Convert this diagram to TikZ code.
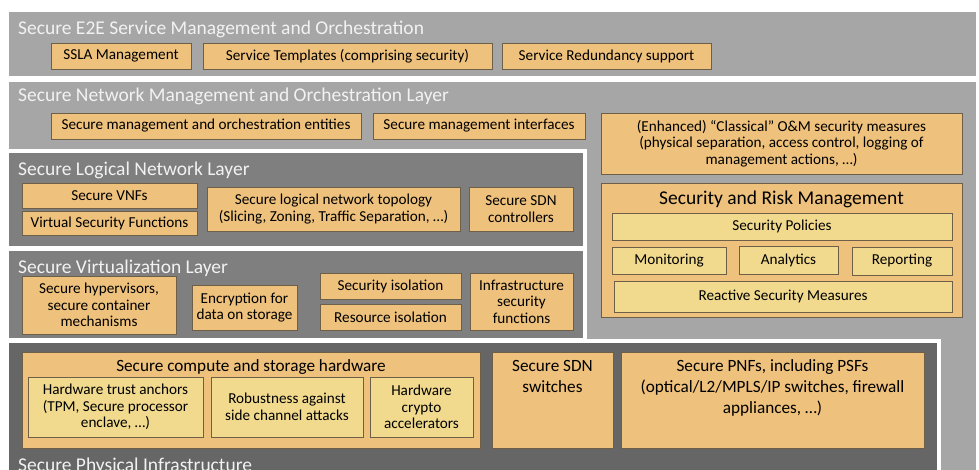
\documentclass[tikz,border=0pt]{standalone}
\usepackage{fontspec}
\setmainfont{Carlito}
\usetikzlibrary{positioning}

\definecolor{lgray}{HTML}{A6A6A6}
\definecolor{mgray}{HTML}{7F7F7F}
\definecolor{dgray}{HTML}{666666}
\definecolor{orng}{HTML}{EEC17C}
\definecolor{ylw}{HTML}{F1DA8E}
\definecolor{edgec}{HTML}{6E5F48}
\definecolor{ttlc}{HTML}{F2F2F2}

\tikzset{
  obox/.style={draw=edgec,line width=0.7pt,fill=orng,inner sep=0pt,align=center,
    font=\fontsize{15.2}{16.5}\selectfont},
  ybox/.style={obox,fill=ylw},
  sz/.style 2 args={minimum width=#1pt,minimum height=#2pt},
  ttl/.style={anchor=base west,inner sep=0pt,text=ttlc,font=\fontsize{19.5}{21}\selectfont},
  big/.style={inner sep=0pt,align=center,font=\fontsize{17.2}{21}\selectfont},
  layer/.style={draw=white,line width=4pt}
}

\begin{document}
\begin{tikzpicture}[x=1pt,y=-1pt]
\useasboundingbox (0,0) rectangle (979,470);
% backgrounds
\fill[lgray] (9,12) rectangle (976,76);
\fill[lgray] (9,82) rectangle (976,470);
\filldraw[layer,fill=mgray] (7,151) rectangle (585,248);
\filldraw[layer,fill=mgray] (7,249) rectangle (584.5,340);
\filldraw[layer,fill=dgray] (7,341) rectangle (939,480);

% E2E service management
\node[ttl] (t1) at (18,35) {Secure E2E Service Management and Orchestration};
\node[obox,sz={140}{26}] (ssla) at (121,56) {SSLA Management};
\node[obox,sz={289}{26}] (tmpl) at (347.5,56) {Service Templates (comprising security)};
\node[obox,sz={209}{26}] (red) at (606.5,56) {Service Redundancy support};

% network management
\node[ttl] (t2) at (18,102) {Secure Network Management and Orchestration Layer};
\node[obox,sz={310}{26}] (moe) at (206,126) {Secure management and orchestration entities};
\node[obox,sz={212}{26}] (mif) at (479,126) {Secure management interfaces};
\node[obox,sz={361}{61}] (om) at (781.5,143.5) {(Enhanced) ``Classical'' O\&M security measures\\(physical separation, access control, logging of\\management actions, \dots)};

% security and risk management
\node[obox,sz={361}{134}] (srm) at (781.5,250) {};
\node[inner sep=0pt,font=\fontsize{19.5}{21}\selectfont,below=8pt of srm.north] (srmt) {Security and Risk Management};
\node[ybox,sz={340}{27}] (pol) at (782,226.5) {Security Policies};
\node[ybox,sz={114}{27}] (mon) at (669,260.5) {Monitoring};
\node[ybox,sz={99}{28}] (ana) at (788.5,260.5) {Analytics};
\node[ybox,sz={100}{28}] (rep) at (902,261) {Reporting};
\node[ybox,sz={338}{31}] (rea) at (783,296.5) {Reactive Security Measures};

% logical network layer
\node[ttl] (t3) at (18,176) {Secure Logical Network Layer};
\node[obox,sz={175}{25}] (vnf) at (109.5,195.5) {Secure VNFs};
\node[obox,sz={175}{24}] (vsf) at (109.5,223) {Virtual Security Functions};
\node[obox,sz={253}{44}] (topo) at (333.5,209) {Secure logical network topology\\(Slicing, Zoning, Traffic Separation, \dots)};
\node[obox,sz={104}{44}] (sdnc) at (521,209) {Secure SDN\\controllers};

% virtualization layer
\node[ttl] (t4) at (18,273) {Secure Virtualization Layer};
\node[obox,sz={154}{58}] (hyp) at (99,305) {Secure hypervisors,\\secure container\\mechanisms};
\node[obox,sz={105}{45}] (enc) at (244.5,307.5) {Encryption for\\data on storage};
\node[obox,sz={141}{26}] (sis) at (390.5,286) {Security isolation};
\node[obox,sz={141}{26}] (ris) at (390.5,317) {Resource isolation};
\node[obox,sz={103}{57}] (isf) at (521.5,301.5) {Infrastructure\\security\\functions};

% physical infrastructure
\node[obox,sz={458}{96}] (hw) at (251,400) {};
\node[big,below=8pt of hw.north] (hwt) {Secure compute and storage hardware};
\node[ybox,sz={175}{60}] (anc) at (115.5,407) {Hardware trust anchors\\(TPM, Secure processor\\enclave, \dots)};
\node[ybox,sz={152}{60}] (rob) at (287,407) {Robustness against\\side channel attacks};
\node[ybox,sz={103}{60}] (cry) at (421.5,407) {Hardware\\crypto\\accelerators};
\node[obox,sz={121}{96}] (sdns) at (552.5,400) {};
\node[big,below=8pt of sdns.north] (sdnst) {Secure SDN\\switches};
\node[obox,sz={303}{96}] (pnf) at (772.5,400) {};
\node[big,below=8pt of pnf.north] (pnft) {Secure PNFs, including PSFs\\(optical/L2/MPLS/IP switches, firewall\\appliances, \dots)};
\node[ttl] (t5) at (18,471) {Secure Physical Infrastructure};
\end{tikzpicture}
\end{document}
